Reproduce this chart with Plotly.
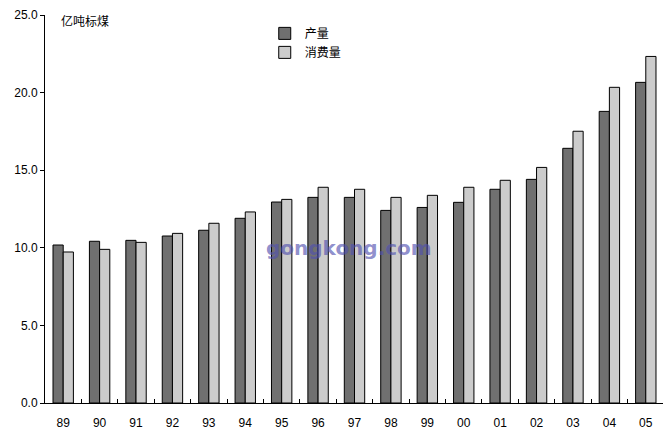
import plotly.graph_objects as go

years = ["89", "90", "91", "92", "93", "94", "95", "96", "97",
         "98", "99", "00", "01", "02", "03", "04", "05"]
production = [10.18, 10.42, 10.48, 10.76, 11.13, 11.90, 12.95, 13.25, 13.25,
              12.41, 12.60, 12.93, 13.77, 14.41, 16.41, 18.79, 20.66]
consumption = [9.73, 9.90, 10.35, 10.93, 11.58, 12.31, 13.12, 13.90, 13.77,
               13.25, 13.38, 13.90, 14.35, 15.18, 17.51, 20.34, 22.33]
y_ticks = [0, 5, 10, 15, 20, 25]

fig = go.Figure()
fig.add_trace(go.Bar(x=years, y=production, name="产量",
                     marker=dict(color="#707070", line=dict(color="black", width=1))))
fig.add_trace(go.Bar(x=years, y=consumption, name="消费量",
                     marker=dict(color="#cccccc", line=dict(color="black", width=1))))

# page body adds an 8px margin, so the figure is a bit smaller than the window
fig.update_layout(
    width=663, height=428,
    margin=dict(l=37, r=7, t=7, b=33),
    paper_bgcolor="white", plot_bgcolor="white",
    barmode="group", bargap=0.44, bargroupgap=0,
    font=dict(family="Liberation Sans, Noto Sans CJK SC", size=12, color="black"),
    legend=dict(x=0.355, y=0.99, xanchor="left", yanchor="top",
                bgcolor="rgba(0,0,0,0)", tracegroupgap=2, itemwidth=30,
                font=dict(family="Noto Sans CJK SC", size=12)),
    showlegend=True,
)
fig.update_xaxes(
    type="category", showline=True, linecolor="black", linewidth=1,
    ticks="inside", tickson="boundaries", ticklen=4, tickcolor="black",
    ticklabelstandoff=9,
    showgrid=False, zeroline=False, automargin=False,
    range=[-0.5, len(years) - 0.5],
)
fig.update_yaxes(
    range=[0, 25], tickvals=y_ticks, tickformat=".1f",
    showline=True, linecolor="black", linewidth=1,
    ticks="outside", ticklen=4, tickcolor="black",
    showgrid=False, zeroline=False, automargin=False,
)

fig.add_annotation(text="亿吨标煤", xref="paper", yref="paper", x=0.022, y=0.985,
                   xanchor="left", yanchor="middle", showarrow=False,
                   font=dict(family="Noto Sans CJK SC", size=12))
fig.add_annotation(text="<b>gongkong.com</b>", xref="paper", yref="paper",
                   x=0.491, y=0.40, showarrow=False,
                   font=dict(family="DejaVu Sans", size=20, color="rgba(80,80,175,0.65)"))

fig.write_html("out.html")
